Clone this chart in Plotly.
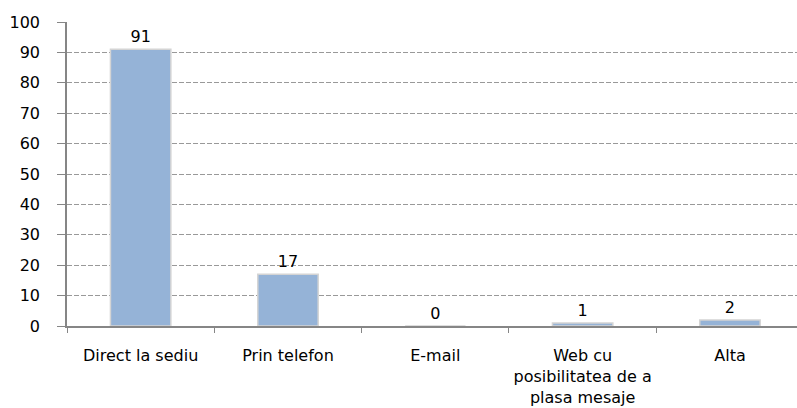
import plotly.graph_objects as go

categories = ["Direct la sediu", "Prin telefon", "E-mail",
              "Web cu<br>posibilitatea de a<br>plasa mesaje", "Alta"]
values = [91, 17, 0, 1, 2]
y_ticks = [0, 10, 20, 30, 40, 50, 60, 70, 80, 90, 100]

font_family = "DejaVu Sans, sans-serif"

fig = go.Figure(
    go.Bar(
        x=categories,
        y=values,
        width=0.41,
        marker=dict(color="#95B3D7", line=dict(color="#D4D4D4", width=1.5)),
        text=[str(v) for v in values],
        textposition="outside",
        textfont=dict(size=16, color="#000000", family=font_family),
        cliponaxis=False,
    )
)

fig.update_layout(
    width=797,
    height=408,
    margin=dict(l=67, r=0, t=22, b=82),
    paper_bgcolor="white",
    plot_bgcolor="white",
    showlegend=False,
    font=dict(family=font_family, size=14, color="#000000"),
    xaxis=dict(
        range=[-0.5, 4.455],
        showline=True,
        linecolor="#868686",
        linewidth=1.5,
        ticks="outside",
        tickson="boundaries",
        ticklen=5,
        tickcolor="#868686",
        showgrid=False,
        tickfont=dict(size=16),
        ticklabelstandoff=14,
    ),
    yaxis=dict(
        range=[0, 100],
        tickvals=y_ticks,
        showline=True,
        linecolor="#868686",
        linewidth=1.5,
        ticks="outside",
        ticklen=8,
        tickcolor="#868686",
        showgrid=True,
        gridcolor="#999999",
        griddash="5px,2px",
        gridwidth=1,
        zeroline=False,
        tickfont=dict(size=16),
        ticklabelstandoff=14,
    ),
)

fig.write_html("out.html")
